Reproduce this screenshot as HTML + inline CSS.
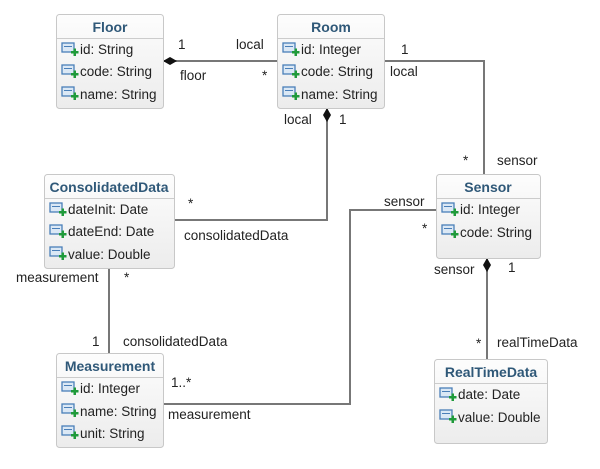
<!DOCTYPE html>
<html><head><meta charset="utf-8"><style>
body{margin:0;background:#fff;}
svg text{font-family:"Liberation Sans",sans-serif;font-size:13.5px;fill:#222;}
.t{font-weight:bold;fill:#2f5878;font-size:14px;}
</style></head><body>
<svg width="600" height="464" xmlns="http://www.w3.org/2000/svg">
<defs>
<linearGradient id="g" x1="0" y1="0" x2="0" y2="1"><stop offset="0" stop-color="#fdfdfd"/><stop offset="1" stop-color="#ececec"/></linearGradient>
<g id="ic"><rect x="0" y="0" width="12" height="9" fill="#dbe8f5" stroke="#4a7fb8" stroke-width="1.3"/><line x1="2" y1="3.5" x2="10" y2="3.5" stroke="#4a7fb8"/><path d="M9 8h2.5v-2.5h2.5v2.5h2.5v2.5h-2.5v2.5h-2.5v-2.5h-2.5z" fill="#1f9a3a"/></g>
</defs>
<g stroke="#777" stroke-width="2" fill="none">
<line x1="163" y1="61" x2="277" y2="61"/>
<polyline points="384,61 484,61 484,174"/>
<polyline points="327,108 327,220 174,220"/>
<line x1="109" y1="268" x2="109" y2="353"/>
<polyline points="163,404 350,404 350,210 436,210"/>
<line x1="487" y1="258" x2="487" y2="359"/>
</g>
<polygon points="163,61 170,57 177,61 170,65" fill="#111"/>
<polygon points="327,108 331,115 327,122 323,115" fill="#111"/>
<polygon points="487,258 491,265 487,272 483,265" fill="#111"/>
<g stroke="#c8c8c8" fill="url(#g)">
<rect x="56.5" y="14.5" width="107" height="94" rx="3"/>
<rect x="277.5" y="14.5" width="107" height="94" rx="3"/>
<rect x="44.5" y="174.5" width="130" height="94" rx="3"/>
<rect x="56.5" y="353.5" width="107" height="94" rx="3"/>
<rect x="436.5" y="174.5" width="104" height="84" rx="3"/>
<rect x="434.5" y="359.5" width="113" height="84" rx="3"/>
</g>
<g stroke="#ccc">
<line x1="57" y1="38.5" x2="163" y2="38.5"/>
<line x1="278" y1="38.5" x2="384" y2="38.5"/>
<line x1="45" y1="198.5" x2="174" y2="198.5"/>
<line x1="57" y1="377.5" x2="163" y2="377.5"/>
<line x1="437" y1="198.5" x2="540" y2="198.5"/>
<line x1="435" y1="383.5" x2="547" y2="383.5"/>
</g>
<text class="t" x="110" y="32" text-anchor="middle">Floor</text>
<text class="t" x="331" y="32" text-anchor="middle">Room</text>
<text class="t" x="109" y="192" text-anchor="middle">ConsolidatedData</text>
<text class="t" x="110" y="371" text-anchor="middle">Measurement</text>
<text class="t" x="488" y="192" text-anchor="middle">Sensor</text>
<text class="t" x="491" y="377" text-anchor="middle">RealTimeData</text>
<use href="#ic" x="62" y="43"/><text x="80" y="54">id: String</text>
<use href="#ic" x="62" y="65"/><text x="80" y="76">code: String</text>
<use href="#ic" x="62" y="87"/><text x="80" y="99">name: String</text>
<use href="#ic" x="283" y="43"/><text x="301" y="54">id: Integer</text>
<use href="#ic" x="283" y="65"/><text x="301" y="76">code: String</text>
<use href="#ic" x="283" y="87"/><text x="301" y="99">name: String</text>
<use href="#ic" x="50" y="203"/><text x="68" y="214">dateInit: Date</text>
<use href="#ic" x="50" y="225"/><text x="68" y="236">dateEnd: Date</text>
<use href="#ic" x="50" y="247"/><text x="68" y="259">value: Double</text>
<use href="#ic" x="62" y="382"/><text x="80" y="393">id: Integer</text>
<use href="#ic" x="62" y="404"/><text x="80" y="416">name: String</text>
<use href="#ic" x="62" y="426"/><text x="80" y="438">unit: String</text>
<use href="#ic" x="442" y="203"/><text x="460" y="214">id: Integer</text>
<use href="#ic" x="442" y="225"/><text x="460" y="237">code: String</text>
<use href="#ic" x="440" y="388"/><text x="458" y="399">date: Date</text>
<use href="#ic" x="440" y="410"/><text x="458" y="422">value: Double</text>
<text x="178" y="49">1</text><text x="236" y="49">local</text>
<text x="180" y="80">floor</text><text x="262" y="80">*</text>
<text x="401" y="54">1</text><text x="390" y="76">local</text>
<text x="284" y="124">local</text><text x="339" y="124">1</text>
<text x="463" y="165">*</text><text x="497" y="165">sensor</text>
<text x="188" y="208">*</text><text x="184" y="240">consolidatedData</text>
<text x="384" y="206">sensor</text><text x="422" y="233">*</text>
<text x="434" y="274">sensor</text><text x="508" y="272">1</text>
<text x="16" y="282">measurement</text><text x="124" y="282">*</text>
<text x="92" y="346">1</text><text x="123" y="346">consolidatedData</text>
<text x="171" y="387">1..*</text><text x="168" y="419">measurement</text>
<text x="476" y="348">*</text><text x="497" y="347">realTimeData</text>
</svg>
</body></html>
